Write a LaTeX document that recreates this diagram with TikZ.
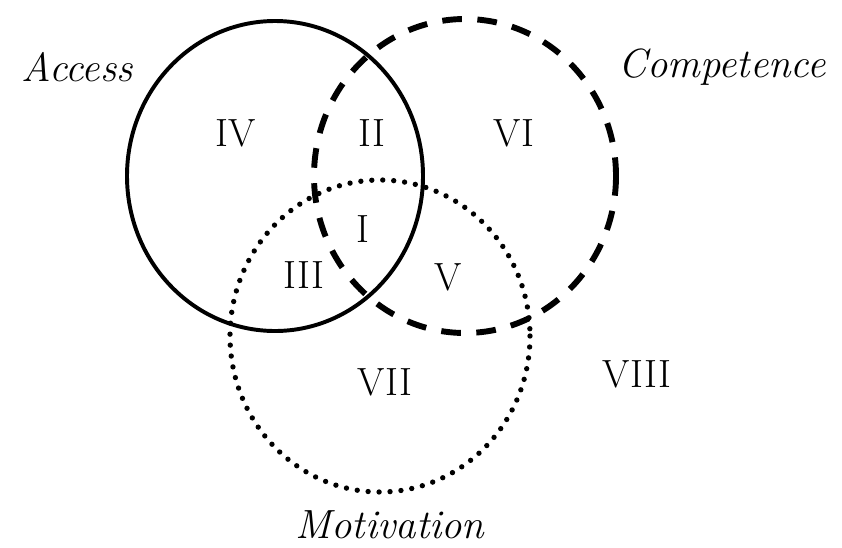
\documentclass[tikz,border=0pt]{standalone}
\usepackage{tikz}
\usepackage{xcolor}

\begin{document}
\begin{tikzpicture}[x=0.025cm,y=-0.025cm,
    region/.style={font=\fontsize{28}{33}\selectfont},
    setname/.style={font=\fontsize{29}{34}\selectfont\itshape}]
            \useasboundingbox (0,0) rectangle (842,547);
            % the three sets
            \draw[line width=2.8pt] (275,176) ellipse (148 and 155);
            \draw[line width=4.2pt, dash pattern=on 14pt off 11pt] (465,176) ellipse (151 and 157);
            \draw[line width=3.8pt, line cap=round, dash pattern=on 0pt off 7.8pt] (380,336) ellipse (150 and 156);
            \node[setname] (access) at (77,67) {Access};
            \node[setname] (competence) at (722,67) {Competence};
            \node[setname] (motivation) at (390,525) {Motivation};
            \node[region] (r4) at (236,133) {IV};
            \node[region] (r2) at (372,133) {II};
            \node[region] (r6) at (514,133) {VI};
            \node[region] (r1) at (363,229) {I};
            \node[region] (r3) at (304,275) {III};
            \node[region] (r5) at (448,277) {V};
            \node[region] (r7) at (385,382) {VII};
            \node[region] (r8) at (637,374) {VIII};
        \end{tikzpicture}
\end{document}
